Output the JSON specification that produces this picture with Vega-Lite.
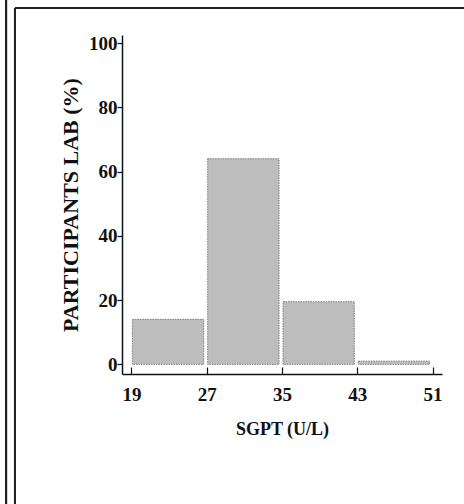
{
  "$schema": "https://vega.github.io/schema/vega-lite/v6.json",
  "width": 320,
  "height": 339,
  "autosize": {"type": "none"},
  "padding": {"left": 122, "top": 35, "right": 22, "bottom": 130},
  "background": "white",
  "config": {
    "view": {"stroke": null},
    "font": "Liberation Serif",
    "axis": {
      "grid": false,
      "domainColor": "#111",
      "domainWidth": 1.5,
      "tickColor": "#111",
      "tickWidth": 1.2,
      "labelColor": "#111",
      "labelFont": "Liberation Serif",
      "labelFontSize": 19,
      "labelFontWeight": "bold",
      "titleColor": "#111",
      "titleFont": "Liberation Serif",
      "titleFontWeight": "bold"
    }
  },
  "data": {
    "values": [
      {"lo": 19, "hi": 27, "pct": 14},
      {"lo": 27, "hi": 35, "pct": 64},
      {"lo": 35, "hi": 43, "pct": 19.5},
      {"lo": 43, "hi": 51, "pct": 1}
    ]
  },
  "layer": [
    {
      "mark": {"type": "bar", "fill": "#bdbdbd", "stroke": "#7c7c7c", "strokeWidth": 1, "strokeDash": [1.5, 1], "xOffset": 1, "x2Offset": -3},
      "encoding": {
        "x": {
          "field": "lo", "type": "quantitative",
          "scale": {"domain": [18, 52], "nice": false, "zero": false},
          "axis": {"title": "SGPT (U/L)", "values": [19, 27, 35, 43, 51], "tickSize": -7, "labelPadding": 18, "titleFontSize": 18, "titlePadding": 16}
        },
        "x2": {"field": "hi"},
        "y": {
          "field": "pct", "type": "quantitative",
          "scale": {"domain": [-3, 102.5], "nice": false, "zero": false},
          "axis": {
            "title": "PARTICIPANTS LAB (%)",
            "values": [0, 10, 20, 30, 40, 50, 60, 70, 80, 90, 100],
            "labelExpr": "datum.value % 20 === 0 ? datum.label : ''",
            "tickSize": {"condition": {"test": "datum.value % 20 === 0", "value": 5}, "value": 3},
            "labelPadding": 0,
            "titleFontSize": 22,
            "titlePadding": 6
          }
        },
        "y2": {"datum": 0}
      }
    },
    {
      "mark": {"type": "rule", "color": "#222", "strokeWidth": 2},
      "encoding": {
        "x": {"datum": 5.68, "type": "quantitative"},
        "y": {"datum": 113.4, "type": "quantitative"},
        "y2": {"datum": -44}
      }
    },
    {
      "mark": {"type": "rule", "color": "#222", "strokeWidth": 2},
      "encoding": {
        "x": {"datum": 6.63, "type": "quantitative"},
        "y": {"datum": 110.9, "type": "quantitative"},
        "y2": {"datum": -44}
      }
    },
    {
      "mark": {"type": "rule", "color": "#222", "strokeWidth": 2},
      "encoding": {
        "x": {"datum": 6.63, "type": "quantitative"},
        "x2": {"datum": 54.5},
        "y": {"datum": 110.9, "type": "quantitative"}
      }
    }
  ]
}
